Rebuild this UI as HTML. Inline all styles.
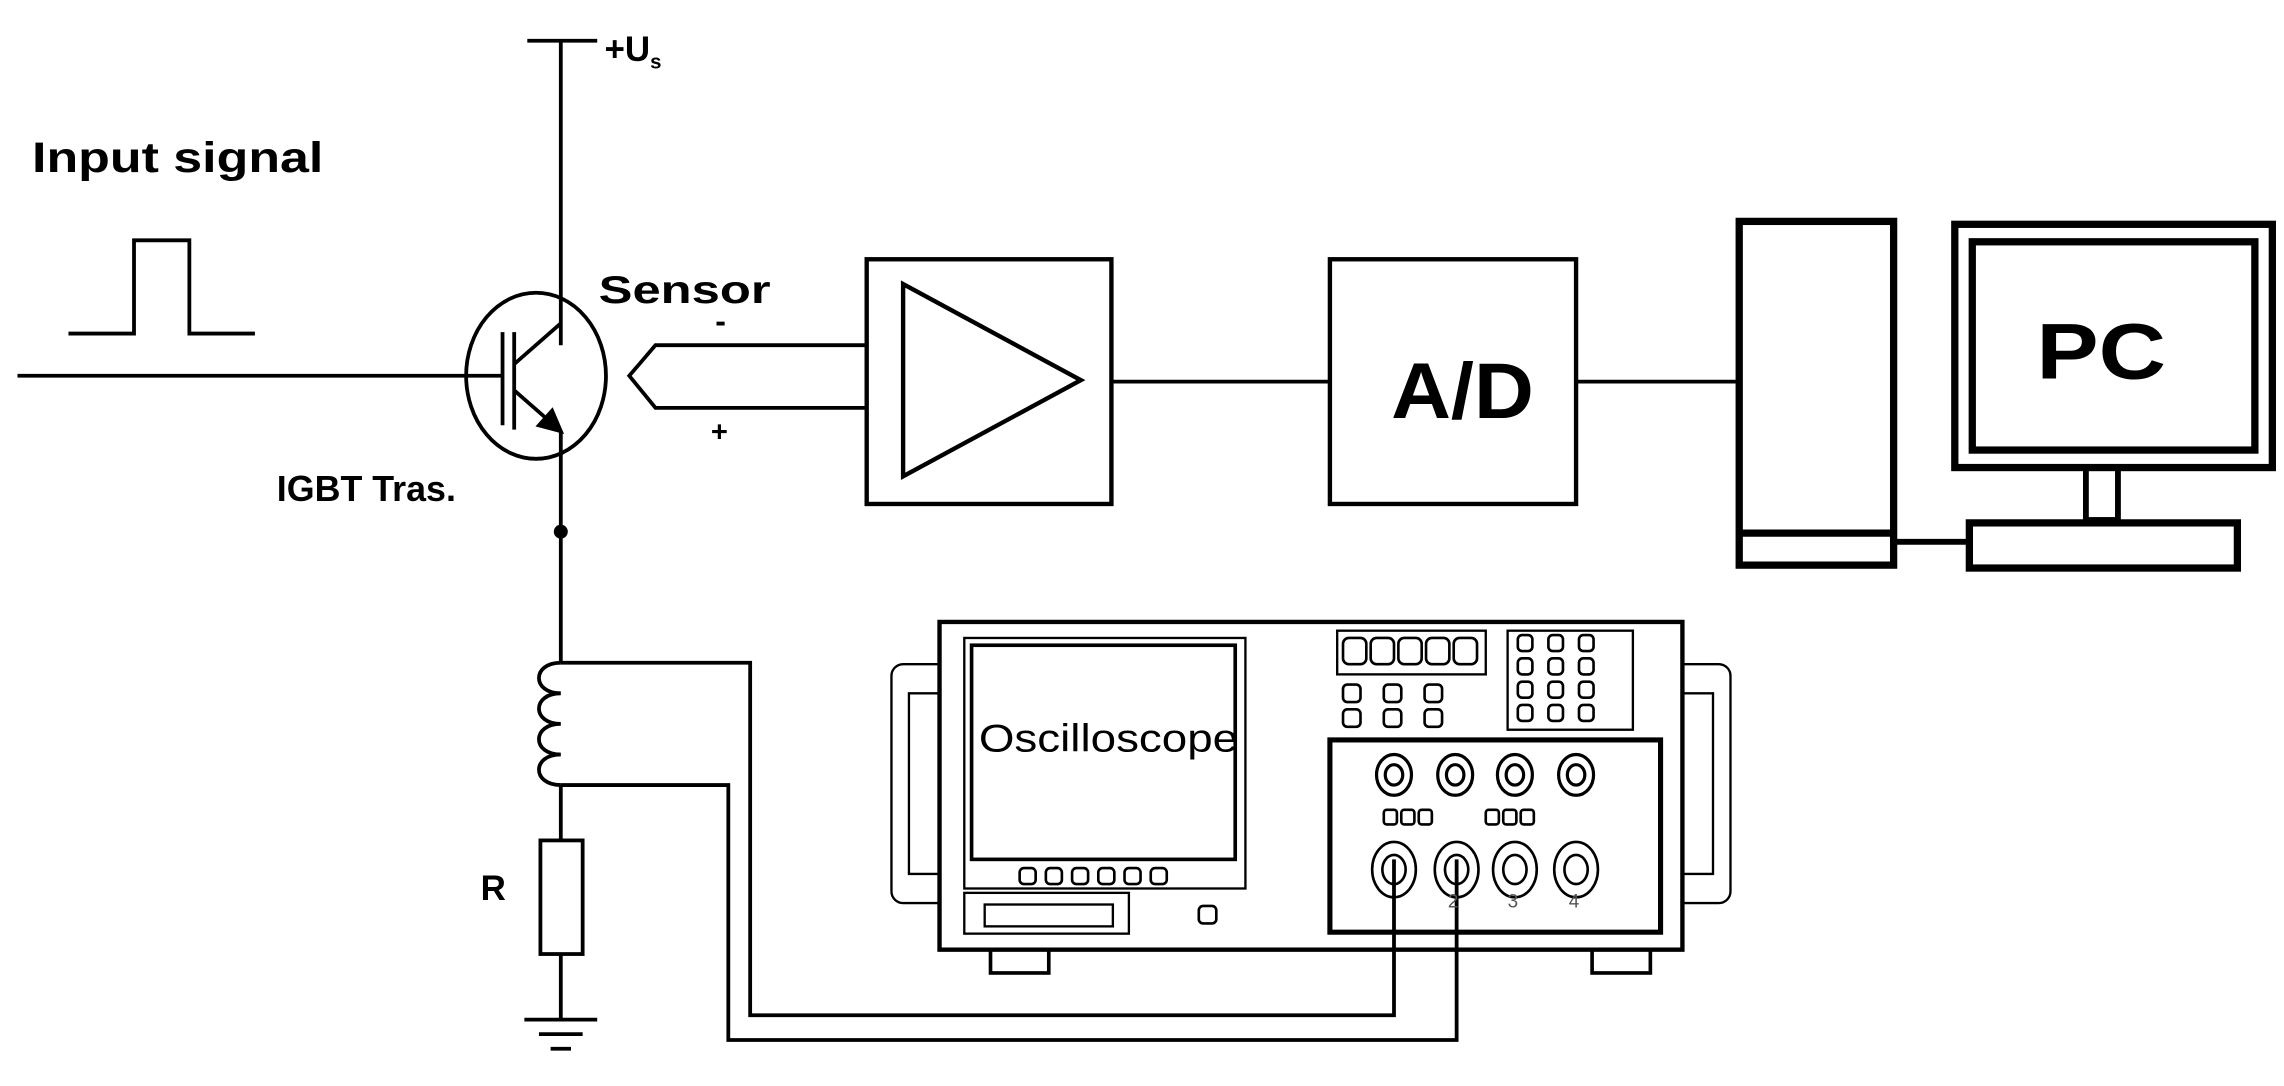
<!DOCTYPE html>
<html><head><meta charset="utf-8"><style>
html,body{margin:0;padding:0;background:#fff;}
svg{display:block;}
text{font-family:"Liberation Sans",Arial,sans-serif;}
</style></head><body>
<svg width="2284" height="1086" viewBox="0 0 1568 745.6" preserveAspectRatio="none" xmlns="http://www.w3.org/2000/svg">
<g fill="none" stroke="#000" stroke-width="2.6">
<line x1="362" y1="28" x2="410" y2="28"/>
<line x1="385" y1="28" x2="385" y2="237"/>
<polyline points="47,229 92,229 92,165 130,165 130,229 175,229"/>
<line x1="12" y1="258" x2="345" y2="258"/>
<ellipse cx="368" cy="258" rx="48" ry="57"/>
<line x1="345" y1="228" x2="345" y2="292"/>
<line x1="353" y1="228" x2="353" y2="295"/>
<polyline points="353,250 385,222"/>
<polyline points="353,268 385,296"/>
<line x1="385" y1="296" x2="385" y2="455"/>
<polygon points="385,296 370,292 379,282" fill="#000"/>
<circle cx="385" cy="365" r="3.5" fill="#000"/>
<polyline points="595,237 450,237 432,258 450,280 595,280"/>
<rect x="595" y="178" width="168" height="168" stroke-width="3"/>
<polygon points="620,195 742,261 620,327" stroke-width="3"/>
<line x1="763" y1="262" x2="913" y2="262"/>
<rect x="913" y="178" width="169" height="168" stroke-width="3"/>
<line x1="1082" y1="262" x2="1192" y2="262"/>
<rect x="1194" y="152" width="106" height="236" stroke-width="5"/>
<line x1="1194" y1="366" x2="1300" y2="366" stroke-width="5"/>
<line x1="1300" y1="372" x2="1352" y2="372" stroke-width="4"/>
<rect x="1342" y="154" width="218" height="167" stroke-width="5"/>
<rect x="1354" y="166" width="194" height="143" stroke-width="5"/>
<rect x="1432" y="321" width="22" height="36" stroke-width="4"/>
<rect x="1352" y="359" width="184" height="31" stroke-width="5"/>
<path d="M385,455 C365,455 365,476 385,476 C365,476 365,497 385,497 C365,497 365,518 385,518 C365,518 365,539 385,539"/>
<line x1="385" y1="539" x2="385" y2="577"/>
<rect x="371" y="577" width="29" height="78"/>
<line x1="385" y1="655" x2="385" y2="700"/>
<line x1="360" y1="700" x2="410" y2="700"/>
<line x1="370" y1="710" x2="400" y2="710"/>
<line x1="378" y1="720" x2="392" y2="720"/>
<polyline points="385,455 515,455 515,697 957,697 957,590"/>
<polyline points="385,539 500,539 500,714 1000,714 1000,590"/>
<g stroke-width="1.6">
<path d="M645,456 H620 a8,8 0 0 0 -8,8 V612 a8,8 0 0 0 8,8 H645"/>
<path d="M645,476 H624 V600 H645"/>
<path d="M1155,456 H1180 a8,8 0 0 1 8,8 V612 a8,8 0 0 1 -8,8 H1155"/>
<path d="M1155,476 H1176 V600 H1155"/>
<rect x="662" y="438" width="193" height="172"/>
<rect x="918" y="433" width="102" height="30"/>
<rect x="1035" y="433" width="86" height="68"/>
<rect x="662" y="613" width="113" height="28"/>
<rect x="676" y="621" width="88" height="15"/>
</g>
<rect x="645" y="427" width="510" height="225" stroke-width="3"/>
<rect x="667" y="443" width="181" height="147" stroke-width="2.5"/>
<rect x="913" y="508" width="227" height="132" stroke-width="3.5"/>
<rect x="680" y="652" width="40" height="16" stroke-width="2.5"/>
<rect x="1093" y="652" width="40" height="16" stroke-width="2.5"/>
<g stroke-width="1.8">
<rect x="700" y="596" width="11" height="11" rx="3"/><rect x="718" y="596" width="11" height="11" rx="3"/><rect x="736" y="596" width="11" height="11" rx="3"/><rect x="754" y="596" width="11" height="11" rx="3"/><rect x="772" y="596" width="11" height="11" rx="3"/><rect x="790" y="596" width="11" height="11" rx="3"/>
<rect x="823" y="622" width="12" height="12" rx="3"/>
<rect x="922" y="438" width="16" height="18" rx="4"/><rect x="941" y="438" width="16" height="18" rx="4"/><rect x="960" y="438" width="16" height="18" rx="4"/><rect x="979" y="438" width="16" height="18" rx="4"/><rect x="998" y="438" width="16" height="18" rx="4"/>
<rect x="922" y="470" width="12" height="12" rx="3"/><rect x="950" y="470" width="12" height="12" rx="3"/><rect x="978" y="470" width="12" height="12" rx="3"/>
<rect x="922" y="487" width="12" height="12" rx="3"/><rect x="950" y="487" width="12" height="12" rx="3"/><rect x="978" y="487" width="12" height="12" rx="3"/>
<rect x="1042" y="436" width="10" height="11" rx="3"/><rect x="1063" y="436" width="10" height="11" rx="3"/><rect x="1084" y="436" width="10" height="11" rx="3"/>
<rect x="1042" y="452" width="10" height="11" rx="3"/><rect x="1063" y="452" width="10" height="11" rx="3"/><rect x="1084" y="452" width="10" height="11" rx="3"/>
<rect x="1042" y="468" width="10" height="11" rx="3"/><rect x="1063" y="468" width="10" height="11" rx="3"/><rect x="1084" y="468" width="10" height="11" rx="3"/>
<rect x="1042" y="484" width="10" height="11" rx="3"/><rect x="1063" y="484" width="10" height="11" rx="3"/><rect x="1084" y="484" width="10" height="11" rx="3"/>
<rect x="950" y="556" width="9" height="10" rx="2"/><rect x="962" y="556" width="9" height="10" rx="2"/><rect x="974" y="556" width="9" height="10" rx="2"/>
<rect x="1020" y="556" width="9" height="10" rx="2"/><rect x="1032" y="556" width="9" height="10" rx="2"/><rect x="1044" y="556" width="9" height="10" rx="2"/>
</g>
<g stroke-width="2.2">
<ellipse cx="957" cy="532" rx="12" ry="14"/><ellipse cx="957" cy="532" rx="6" ry="7"/>
<ellipse cx="999" cy="532" rx="12" ry="14"/><ellipse cx="999" cy="532" rx="6" ry="7"/>
<ellipse cx="1040" cy="532" rx="12" ry="14"/><ellipse cx="1040" cy="532" rx="6" ry="7"/>
<ellipse cx="1082" cy="532" rx="12" ry="14"/><ellipse cx="1082" cy="532" rx="6" ry="7"/>
</g>
<g stroke-width="1.8">
<ellipse cx="957" cy="597" rx="15" ry="19"/><ellipse cx="957" cy="597" rx="8" ry="10"/>
<ellipse cx="1000" cy="597" rx="15" ry="19"/><ellipse cx="1000" cy="597" rx="8" ry="10"/>
<ellipse cx="1040" cy="597" rx="15" ry="19"/><ellipse cx="1040" cy="597" rx="8" ry="10"/>
<ellipse cx="1082" cy="597" rx="15" ry="19"/><ellipse cx="1082" cy="597" rx="8" ry="10"/>
</g>
</g>
<g fill="#000">
<text x="415" y="42" font-size="24" font-weight="bold">+U<tspan font-size="14" dy="5">s</tspan></text>
<text x="22" y="118" font-size="29" font-weight="bold" textLength="200" lengthAdjust="spacingAndGlyphs">Input signal</text>
<text x="411" y="208" font-size="27" font-weight="bold" textLength="118" lengthAdjust="spacingAndGlyphs">Sensor</text>
<text x="491" y="228" font-size="22" font-weight="bold">-</text>
<text x="488" y="303" font-size="20" font-weight="bold">+</text>
<text x="190" y="344" font-size="25" font-weight="bold" textLength="123" lengthAdjust="spacingAndGlyphs">IGBT Tras.</text>
<text x="330" y="618" font-size="24" font-weight="bold">R</text>
<text x="955" y="287" font-size="54" font-weight="bold" textLength="98" lengthAdjust="spacingAndGlyphs">A/D</text>
<text x="1398" y="260" font-size="54" font-weight="bold" textLength="89" lengthAdjust="spacingAndGlyphs">PC</text>
<text x="672" y="516" font-size="27" textLength="178" lengthAdjust="spacingAndGlyphs">Oscilloscope</text>
<g font-size="13" fill="#555"><text x="994" y="623">2</text><text x="1035" y="623">3</text><text x="1077" y="623">4</text></g>
</g>
</svg>
</body></html>
